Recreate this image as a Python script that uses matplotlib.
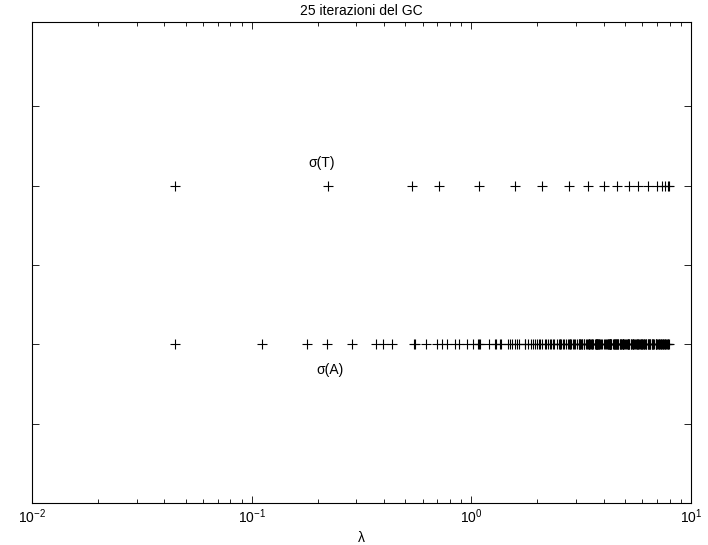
import matplotlib
matplotlib.use("Agg")
import matplotlib.pyplot as plt
from matplotlib.ticker import LogLocator, NullFormatter

plt.rcParams["font.family"] = ["Liberation Sans", "DejaVu Sans"]
plt.rcParams["mathtext.fontset"] = "custom"
plt.rcParams["mathtext.rm"] = "Liberation Sans"

# Ritz values (spectrum of T after 25 CG iterations)
sigma_T = [0.0448, 0.222, 0.535, 0.714, 1.083, 1.58, 2.09, 2.79, 3.41,
           4.02, 4.62, 5.24, 5.75, 6.39, 6.98, 7.36, 7.62, 7.86, 7.95]

# spectrum of A, bottom row
sigma_A = [
    0.0447, 0.1111, 0.2204, 0.3698, 0.5562, 0.7753, 1.0223, 1.2916, 1.5773, 1.8728,
    2.1718, 2.4673, 2.7530, 3.0223, 3.2693, 3.4884, 3.6748, 3.8242, 3.9335, 4.0000,
    0.1777, 0.2869, 0.4363, 0.6227, 0.8418, 1.0888, 1.3581, 1.6438, 1.9393, 2.2383,
    2.5338, 2.8195, 3.0888, 3.3358, 3.5549, 3.7413, 3.8907, 4.0665,
    0.3961, 0.5456, 0.7320, 0.9511, 1.1981, 1.4674, 1.7531, 2.0486, 2.3476, 2.6431,
    2.9288, 3.1981, 3.4451, 3.6642, 3.8506, 4.1093, 4.1758,
    0.6950, 0.8814, 1.1005, 1.3475, 1.6168, 1.9025, 2.1980, 2.4970, 2.7925, 3.0782,
    3.3475, 3.5945, 3.8136, 4.1494, 4.2587, 4.3252,
    1.0678, 1.2869, 1.5339, 1.8032, 2.0889, 2.3844, 2.6834, 2.9789, 3.2646, 3.5339,
    3.7809, 4.1864, 4.3358, 4.4451, 4.5116,
    1.5060, 1.7530, 2.0223, 2.3080, 2.6035, 2.9025, 3.1980, 3.4837, 3.7530, 4.2191,
    4.4055, 4.5549, 4.6642, 4.7307,
    2.0000, 2.2693, 2.5550, 2.8505, 3.1495, 3.4450, 3.7307, 4.2470, 4.4661, 4.6525,
    4.8019, 4.9112, 4.9777,
    2.5386, 2.8243, 3.1198, 3.4188, 3.7143, 4.2693, 4.5163, 4.7354, 4.9218, 5.0712,
    5.1805, 5.2470,
    3.1100, 3.4055, 3.7045, 4.2857, 4.5550, 4.8020, 5.0211, 5.2075, 5.3569, 5.4662,
    5.5327,
    3.7010, 4.2955, 4.5812, 4.8505, 5.0975, 5.3166, 5.5030, 5.6524, 5.7617, 5.8282,
    4.2990, 4.5945, 4.8802, 5.1495, 5.3965, 5.6156, 5.8020, 5.9514, 6.0607, 6.1272,
    4.8900, 5.1757, 5.4450, 5.6920, 5.9111, 6.0975, 6.2469, 6.3562, 6.4227,
    5.4614, 5.7307, 5.9777, 6.1968, 6.3832, 6.5326, 6.6419, 6.7084,
    6.0000, 6.2470, 6.4661, 6.6525, 6.8019, 6.9112, 6.9777,
    6.4940, 6.7131, 6.8995, 7.0489, 7.1582, 7.2247,
    6.9322, 7.1186, 7.2680, 7.3773, 7.4438,
    7.3050, 7.4544, 7.5637, 7.6302,
    7.6038, 7.7131, 7.7796,
    7.8224, 7.8889,
    7.9554,
]

row_T, row_A = 2, 1

fig = plt.figure(figsize=(7.08, 5.45), dpi=100)
ax = fig.add_axes([0.0452, 0.0771, 0.9308, 0.8825])

ax.plot(sigma_T, [row_T] * len(sigma_T), "k+", markersize=7, markeredgewidth=0.8)
ax.plot(sigma_A, [row_A] * len(sigma_A), "k+", markersize=7, markeredgewidth=0.8)

ax.text(0.209, 2.14, r"σ(T)", ha="center", va="center", fontsize=10)
ax.text(0.227, 0.84, r"σ(A)", ha="center", va="center", fontsize=10)

ax.set_xscale("log")
ax.set_xlim(1e-2, 1e1)
ax.set_ylim(0, 3.03)
ax.set_yticks([0, 0.5, 1, 1.5, 2, 2.5])
ax.set_yticklabels([])
ax.xaxis.set_minor_locator(LogLocator(base=10, subs=range(2, 10)))
ax.xaxis.set_minor_formatter(NullFormatter())

ax.tick_params(which="both", direction="in", top=True, right=True, labelsize=10)
ax.tick_params(which="major", length=5, width=0.6)
ax.tick_params(which="minor", length=3, width=0.6)
for s in ax.spines.values():
    s.set_linewidth(0.8)

ax.set_xlabel("λ", fontsize=10, labelpad=3)
ax.set_title("25 iterazioni del GC", fontsize=10, pad=5)

fig.savefig("out.png", dpi=100)
